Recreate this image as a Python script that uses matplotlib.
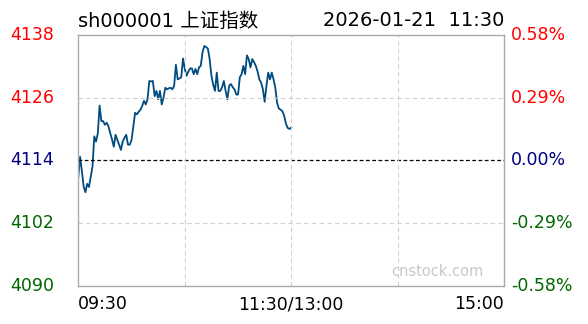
import matplotlib

matplotlib.use("Agg")
import matplotlib.pyplot as plt
import matplotlib.transforms as mtransforms

# ----------------- DATA -----------------
PREV_CLOSE = 4114
Y_TICKS = [4090, 4102, 4114, 4126, 4138]
Y_LABELS = ["4090", "4102", "4114", "4126", "4138"]
PCT_LABELS = ["-0.58%", "-0.29%", "0.00%", "0.29%", "0.58%"]
X_TICK_LABELS = ["09:30", "11:30/13:00", "15:00"]

# minute closes 09:30 .. 11:30 (121 points)
PRICES = [
    4110.8, 4114.7, 4112.0, 4109.0, 4107.9, 4109.5, 4108.9, 4110.8, 4112.8, 4118.6,
    4117.6, 4119.2, 4124.5, 4121.5, 4121.5, 4120.8, 4121.2, 4120.5, 4119.2, 4118.0,
    4116.6, 4118.9, 4117.9, 4117.0, 4116.0, 4117.6, 4118.3, 4118.9, 4117.0, 4117.0,
    4117.9, 4120.5, 4123.1, 4122.8, 4123.3, 4123.7, 4124.4, 4125.4, 4124.7, 4125.7,
    4129.2, 4129.1, 4129.2, 4126.3, 4127.3, 4125.7, 4127.3, 4124.7, 4126.0, 4127.9,
    4127.6, 4127.8, 4127.9, 4127.6, 4128.3, 4132.3, 4129.5, 4129.7, 4129.9, 4133.5,
    4131.5, 4130.2, 4131.0, 4131.6, 4131.6, 4130.5, 4131.5, 4130.5, 4131.8, 4132.1,
    4134.7, 4135.9, 4135.7, 4135.4, 4133.4, 4130.2, 4128.5, 4127.3, 4130.8, 4127.3,
    4127.3, 4128.0, 4129.2, 4127.3, 4125.7, 4128.3, 4128.6, 4128.0, 4127.6, 4126.6,
    4126.6, 4129.9, 4130.5, 4132.1, 4130.5, 4134.1, 4133.4, 4131.8, 4133.4, 4132.8,
    4132.1, 4131.0, 4129.5, 4128.9, 4127.6, 4125.2, 4128.3, 4130.8, 4129.5, 4130.8,
    4129.5, 4127.9, 4125.0, 4123.9, 4123.7, 4123.4, 4122.5, 4121.0, 4120.2, 4120.0,
    4120.3,
]
# -----------------------------------------

RED, NAVY, GREEN = "#ff0000", "#000080", "#006600"
LABEL_COLORS = [GREEN, GREEN, NAVY, RED, RED]
FONT = ["DejaVu Sans", "Noto Sans CJK SC"]

fig = plt.figure(figsize=(5.88, 3.24), dpi=100)
ax = fig.add_axes([78.3 / 588, 1 - 285.7 / 324, 426 / 588, 250.7 / 324])

minutes = list(range(len(PRICES)))
ax.plot(minutes, PRICES, color="#004b7f", linewidth=1.3)
ax.axhline(PREV_CLOSE, color="black", linewidth=0.9, linestyle=(0, (3, 2)))
for y in (4102, 4126):
    ax.axhline(y, color="#d0d0d0", linewidth=0.8, linestyle=(0, (4, 3)))
for x in (60, 120, 180):
    ax.axvline(x, color="#d0d0d0", linewidth=0.8, linestyle=(0, (4, 3)))

ax.set_xlim(0, 240)
ax.set_ylim(Y_TICKS[0], Y_TICKS[-1])
ax.set_xticks([])
ax.set_yticks([])
for s in ax.spines.values():
    s.set_color("#aaaaaa")
    s.set_linewidth(1)

# y labels: x in axes fraction, y in data
ytr = mtransforms.blended_transform_factory(ax.transAxes, ax.transData)
for y, lab, pct, c in zip(Y_TICKS, Y_LABELS, PCT_LABELS, LABEL_COLORS):
    ax.text(-0.108, y, lab, color=c, fontsize=12.5, ha="center", va="center",
            family=FONT, transform=ytr, clip_on=False)
    ax.text(1.016, y, pct, color=c, fontsize=12.5, ha="left", va="center",
            family=FONT, transform=ytr, clip_on=False)

xtr = mtransforms.blended_transform_factory(ax.transData, ax.transAxes)
for x, lab, ha in zip((0, 120, 240), X_TICK_LABELS, ("left", "center", "right")):
    ax.text(x, -0.073, lab, color="black", fontsize=12.5, ha=ha, va="center",
            family=FONT, transform=xtr, clip_on=False)

fig.text(78 / 588, 1 - 21 / 324, "sh000001 上证指数", fontsize=14, family=FONT,
         ha="left", va="center")
fig.text(504 / 588, 1 - 21 / 324, "2026-01-21  11:30", fontsize=14, family=FONT,
         ha="right", va="center")
ax.text(0.842, 0.058, "cnstock.com", transform=ax.transAxes, color="#c8c8c8",
        fontsize=10.5, ha="center", va="center", family=FONT)

fig.savefig("out.png", dpi=100)
